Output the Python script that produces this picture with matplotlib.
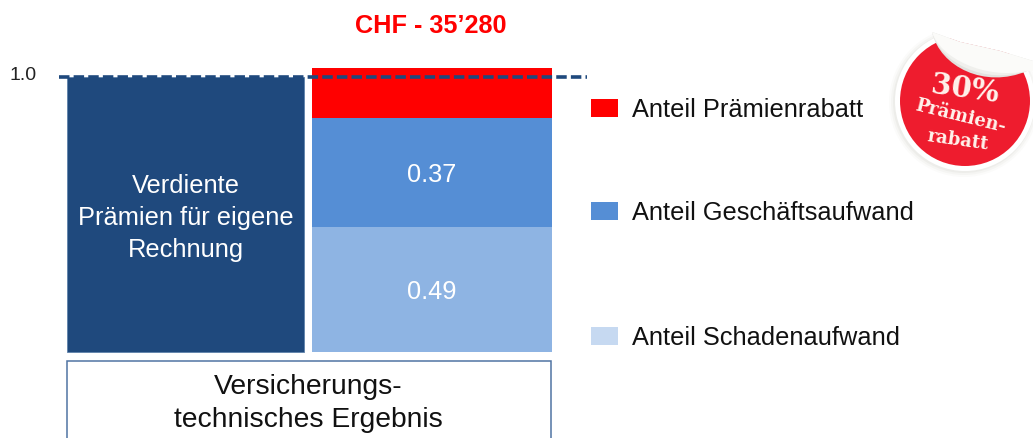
import matplotlib
matplotlib.use("Agg")
import matplotlib.pyplot as plt
from matplotlib.patches import Rectangle, Circle, PathPatch
from matplotlib.path import Path

plt.rcParams['font.family'] = ['Liberation Sans', 'DejaVu Sans']

# Data: heights as drawn in the picture, printed labels separately
categories = [0, 1]
left_value = [1.0]
segment_names = ['Anteil Schadenaufwand', 'Anteil Geschäftsaufwand', 'Anteil Prämienrabatt']
segment_heights = [0.455, 0.396, 0.182]
segment_colors = ['#8EB4E3', '#558ED5', '#FF0000']
legend_colors = ['#C6D9F1', '#558ED5', '#FF0000']
segment_labels = ['0.49', '0.37', '']
left_label = 'Verdiente\nPrämien für eigene\nRechnung'
reference_level = 1.0
title = 'CHF - 35’280'
box_label = ['Versicherungs-', 'technisches Ergebnis']

W, H = 1033, 439
fig = plt.figure(figsize=(W / 100, H / 100), dpi=100)

# Data axes: value 0 at pixel row 352.7, value 1 at row 77.7; slots 246 px apart
ax = fig.add_axes([0, 0, 1, 1])
ax.set_xlim((0 - 185.5) / 246, (W - 185.5) / 246)
ax.set_ylim((352.7 - H) / 275, 352.7 / 275)
ax.axis('off')

# Overlay in pixel coordinates for annotations
px = fig.add_axes([0, 0, 1, 1], zorder=5)
px.set_xlim(0, W)
px.set_ylim(H, 0)
px.axis('off')
px.patch.set_alpha(0)

BW = 0.966
ax.bar(categories[0], left_value[0], width=BW, color='#1F497D', edgecolor='#5f82ab', linewidth=0.6)
bottom = 0
for h, c, lab in zip(segment_heights, segment_colors, segment_labels):
    ax.bar(categories[1] + 0.002, h, width=0.972, bottom=bottom, color=c, linewidth=0)
    if lab:
        ax.text(categories[1], bottom + h / 2 - 0.007, lab, color='white', fontsize=18.3,
                ha='center', va='center')
    bottom += h

ax.plot([(59 - 185.5) / 246, (587 - 185.5) / 246], [reference_level] * 2, color='#1F497D', lw=2.6,
        dashes=(2.9, 1.15), dash_capstyle='butt', zorder=6)
ax.text(categories[0], 0.49, left_label, color='white', fontsize=18.3, ha='center', va='center',
        linespacing=1.4)

# Text around the bars
px.text(431, 26, title, color='#FF0000', fontsize=18.2, fontweight='bold', ha='center', va='center')
px.text(23, 75, '1.0', color='#222222', fontsize=14, ha='center', va='center')

# Box below
px.add_patch(Rectangle((67, 362), 484, 90, facecolor='white', edgecolor='#4f74a3', lw=1.1))
px.text(308, 387.5, box_label[0], color='#111111', fontsize=20.3, ha='center', va='center')
px.text(308, 420, box_label[1], color='#111111', fontsize=20.3, ha='center', va='center')

# Legend
for name, c, y in zip(segment_names[::-1], legend_colors[::-1], [108.5, 212, 337]):
    px.add_patch(Rectangle((591, y - 9), 27, 18, facecolor=c, linewidth=0))
    px.text(632, y + 1.5, name, color='#111111', fontsize=18.3, ha='left', va='center')

# Sticker decoration
cx, cy = 965, 102
for r, a in [(75, 0.04), (73, 0.06), (71, 0.08)]:
    px.add_patch(Circle((cx - 1, cy + 1), r, facecolor='#999988', alpha=a, linewidth=0))
px.add_patch(Circle((cx, cy), 70, facecolor='white', linewidth=0))
px.add_patch(Circle((cx, cy), 65, facecolor='#EE1C2E', linewidth=0))

# page white above the curl
top_v = [(925, 25), (932, 33), (960, 43), (1000, 52), (1033, 62), (1033, 25), (925, 25)]
top_c = [Path.MOVETO] + [Path.LINETO] * 5 + [Path.CLOSEPOLY]
px.add_patch(PathPatch(Path(top_v, top_c), facecolor='white', linewidth=0))
# curl
curl_layers = [('#e2e2df', 0), ('#f0f0ed', 4), ('#fbfbf9', 9)]
for col, d in curl_layers:
    v = [(932, 33), (940, 68 - d), (985, 90 - d), (1027, 72), (1033, 72), (1033, 62),
         (1000, 52), (960, 43), (932, 33)]
    c = [Path.MOVETO, Path.CURVE4, Path.CURVE4, Path.CURVE4, Path.LINETO, Path.LINETO,
         Path.LINETO, Path.LINETO, Path.CLOSEPOLY]
    px.add_patch(PathPatch(Path(v, c), facecolor=col, linewidth=0))

px.text(965, 89, '30%', color='#FFF3EC', fontsize=21, fontweight='bold', family='DejaVu Serif', rotation=-8,
        ha='center', va='center', rotation_mode='anchor')
px.text(960, 116, 'Prämien-', color='#FFF3EC', fontsize=13, fontweight='bold', family='DejaVu Serif',
        rotation=-14, ha='center', va='center', rotation_mode='anchor')
px.text(958, 140, 'rabatt', color='#FFF3EC', fontsize=13, fontweight='bold', family='DejaVu Serif',
        rotation=-8, ha='center', va='center', rotation_mode='anchor')

fig.savefig('out.png', dpi=100, facecolor='white')
